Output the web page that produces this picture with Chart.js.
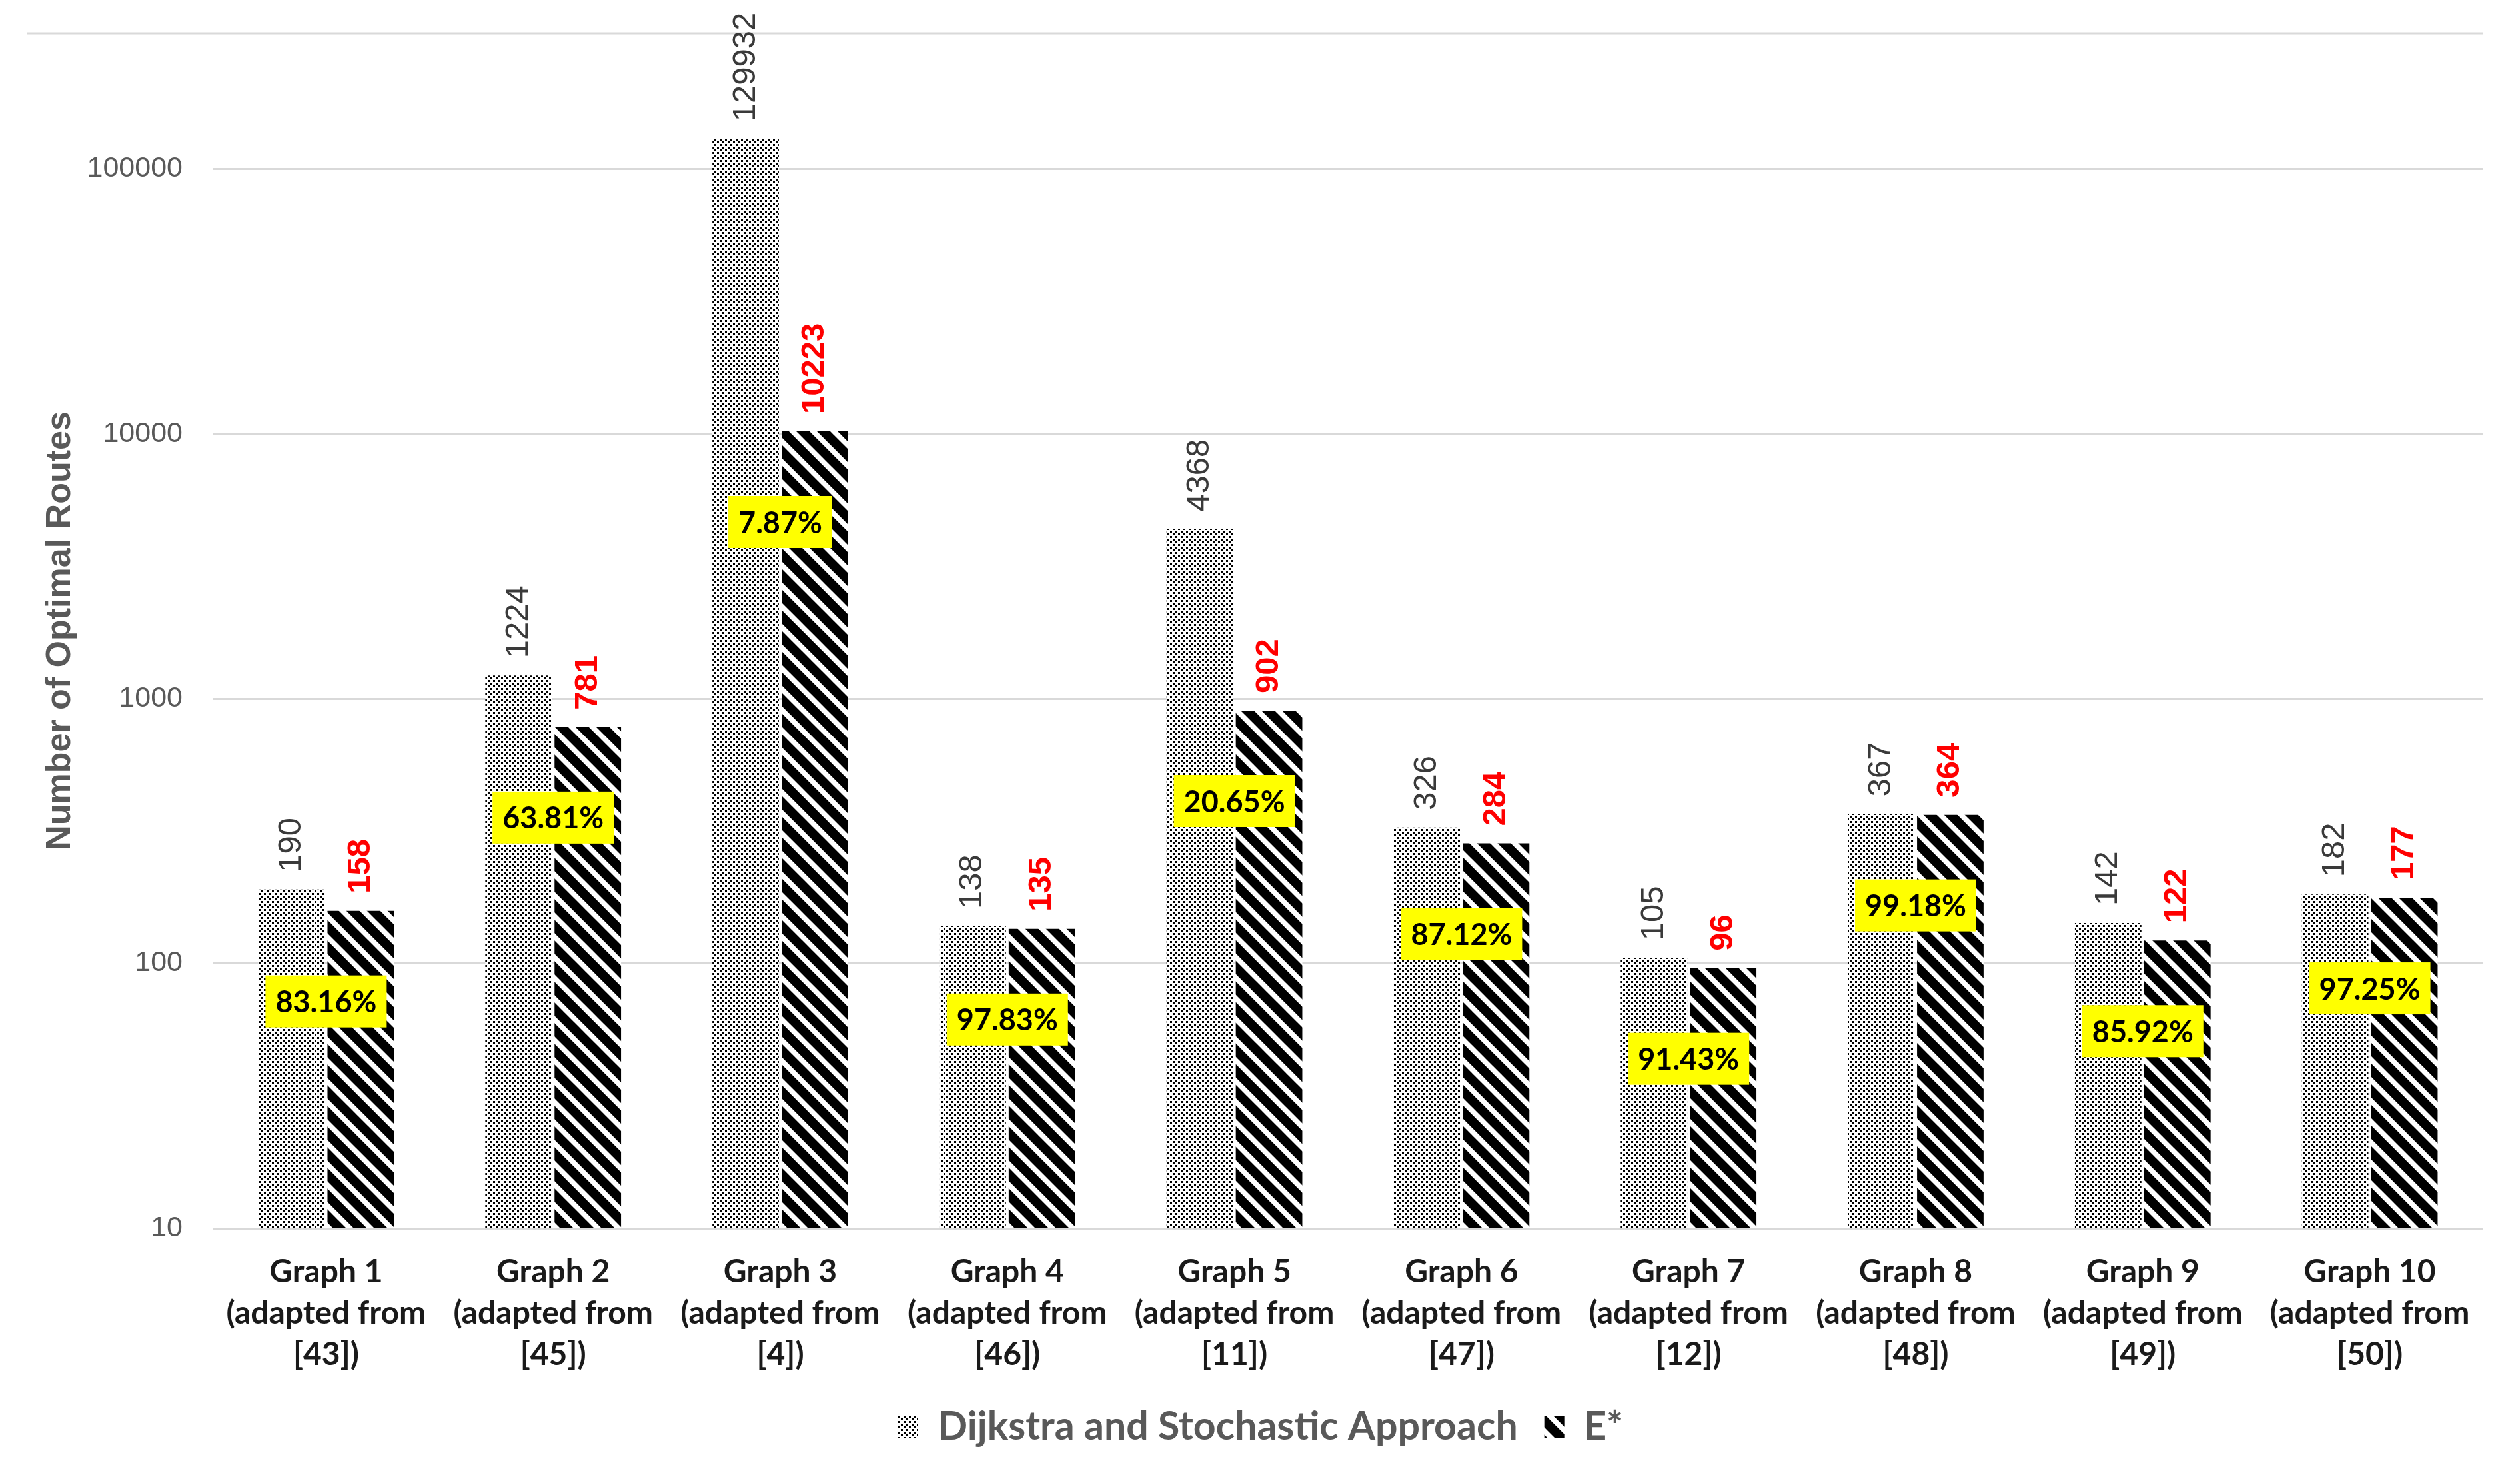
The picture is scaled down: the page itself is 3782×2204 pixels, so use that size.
<!DOCTYPE html>
<html>
<head>
<meta charset="utf-8">
<title>Number of Optimal Routes</title>
<script src="https://cdn.jsdelivr.net/npm/chart.js@4.4.1/dist/chart.umd.min.js"></script>
<style>
  html, body { margin: 0; padding: 0; background: #fff; }
  #wrap { width: 3782px; height: 2204px; position: relative; }
</style>
</head>
<body>
<div id="wrap"><canvas id="myChart"></canvas></div>
<script>
// chart data
let categories = [
  ['Graph 1', '(adapted from', '[43])'],
  ['Graph 2', '(adapted from', '[45])'],
  ['Graph 3', '(adapted from', '[4])'],
  ['Graph 4', '(adapted from', '[46])'],
  ['Graph 5', '(adapted from', '[11])'],
  ['Graph 6', '(adapted from', '[47])'],
  ['Graph 7', '(adapted from', '[12])'],
  ['Graph 8', '(adapted from', '[48])'],
  ['Graph 9', '(adapted from', '[49])'],
  ['Graph 10', '(adapted from', '[50])']
];
let seriesNames = ['Dijkstra and Stochastic Approach', 'E*'];
let dijkstraValues = [190, 1224, 129932, 138, 4368, 326, 105, 367, 142, 182];
let eStarValues = [158, 781, 10223, 135, 902, 284, 96, 364, 122, 177];
let yTicks = [10, 100, 1000, 10000, 100000];

const calibriLike = 'Lato, "Open Sans", sans-serif';
const arialLike = '"Liberation Sans", Arial, sans-serif';

//fill patterns like the excel ones
function dotPattern() {
  let c = document.createElement('canvas');
  c.width = 8; c.height = 8;
  let p = c.getContext('2d');
  p.fillStyle = '#fff';
  p.fillRect(0, 0, 8, 8);
  p.fillStyle = '#000';
  p.fillRect(0, 0, 3, 3);
  p.fillRect(4, 4, 3, 3);
  return p.createPattern(c, 'repeat');
}

function hatchPattern() {
  let s = 31;
  let c = document.createElement('canvas');
  c.width = s; c.height = s;
  let p = c.getContext('2d');
  p.fillStyle = '#fff';
  p.fillRect(0, 0, s, s);
  p.strokeStyle = '#000';
  p.lineWidth = 14;
  for (let k = -1; k <= 1; k++) {
    p.beginPath();
    p.moveTo(k * s - 6, -6);
    p.lineTo(k * s + s + 6, s + 6);
    p.stroke();
  }
  return p.createPattern(c, 'repeat');
}

// top border line of the chart
const topLine = {
  id: 'topLine',
  beforeDatasetsDraw(chart) {
    let ctx = chart.ctx;
    ctx.save();
    ctx.strokeStyle = '#d9d9d9';
    ctx.lineWidth = 3;
    ctx.beginPath();
    ctx.moveTo(40, chart.chartArea.top);
    ctx.lineTo(chart.chartArea.right, chart.chartArea.top);
    ctx.stroke();
    ctx.restore();
  }
};

// value labels above bars + yellow ratio boxes
const barLabels = {
  id: 'barLabels',
  afterDatasetsDraw(chart) {
    let ctx = chart.ctx;
    ctx.save();
    chart.data.datasets.forEach((ds, di) => {
      let meta = chart.getDatasetMeta(di);
      meta.data.forEach((bar, i) => {
        ctx.save();
        ctx.translate(bar.x, bar.y - 26);
        ctx.rotate(-Math.PI / 2);
        ctx.font = (di === 0 ? '' : 'bold ') + '49px ' + arialLike;
        ctx.fillStyle = di === 0 ? '#3a3a3a' : '#ff0000';
        ctx.textAlign = 'left';
        ctx.textBaseline = 'middle';
        ctx.fillText(String(ds.data[i]), 0, 0);
        ctx.restore();
      });
    });

    let m0 = chart.getDatasetMeta(0);
    let m1 = chart.getDatasetMeta(1);
    ctx.font = 'bold 45px ' + calibriLike;
    ctx.textAlign = 'center';
    ctx.textBaseline = 'middle';
    eStarValues.forEach((v, i) => {
      let txt = (v / dijkstraValues[i] * 100).toFixed(2) + '%';
      let x = (m0.data[i].x + m1.data[i].x) / 2;
      let y = m1.data[i].y + 136;
      let w = ctx.measureText(txt).width + 30;
      ctx.fillStyle = '#ffff00';
      ctx.fillRect(x - w / 2, y - 39, w, 78);
      ctx.fillStyle = '#000';
      ctx.fillText(txt, x, y + 2);
    });
    ctx.restore();
  }
};

let ctx = document.getElementById('myChart').getContext('2d');

let myChart = new Chart(ctx, {
  type: 'bar',
  data: {
    labels: categories,
    datasets: [{
      label: seriesNames[0],
      data: dijkstraValues,
      backgroundColor: dotPattern(),
      borderColor: 'rgba(0,0,0,0)',
      borderWidth: 0
    }, {
      label: seriesNames[1],
      data: eStarValues,
      backgroundColor: hatchPattern(),
      borderColor: 'rgba(0,0,0,0)',
      borderWidth: 0
    }]
  },
  options: {
    responsive: true,
    maintainAspectRatio: false,
    devicePixelRatio: 1,
    animation: false,
    categoryPercentage: 0.61,
    barPercentage: 0.96,
    layout: {
      padding: { left: 57, right: 55, top: 50, bottom: 24 }
    },
    scales: {
      x: {
        grid: { display: false, drawTicks: false },
        border: { display: false },
        afterFit: (scale) => { scale.height = 228; },
        ticks: {
          padding: 34,
          color: '#1a1a1a',
          maxRotation: 0,
          autoSkip: false,
          font: { family: calibriLike, size: 48, weight: 'bold', lineHeight: 1.3 }
        }
      },
      y: {
        type: 'logarithmic',
        min: 10,
        max: 325000,
        afterBuildTicks: (scale) => {
          scale.ticks = yTicks.map(v => ({ value: v }));
        },
        afterFit: (scale) => {
          scale.width = 262;
          // tick padding should not push the plot down
          scale.paddingTop = 0;
          scale.paddingBottom = 0;
        },
        grid: { color: '#d9d9d9', lineWidth: 3, drawTicks: false },
        border: { display: false },
        ticks: {
          padding: 45,
          color: '#595959',
          font: { family: arialLike, size: 43 },
          callback: (v) => String(v)
        },
        title: {
          display: true,
          text: 'Number of Optimal Routes',
          color: '#595959',
          font: { family: arialLike, size: 52, weight: 'bold' },
          padding: { top: 2, bottom: 0 }
        }
      }
    },
    plugins: {
      legend: {
        position: 'bottom',
        labels: {
          color: '#595959',
          boxWidth: 30,
          boxHeight: 33,
          padding: 40,
          font: { family: calibriLike, size: 59, weight: 'bold' }
        }
      },
      tooltip: { enabled: false }
    }
  },
  plugins: [topLine, barLabels]
});
</script>
</body>
</html>
